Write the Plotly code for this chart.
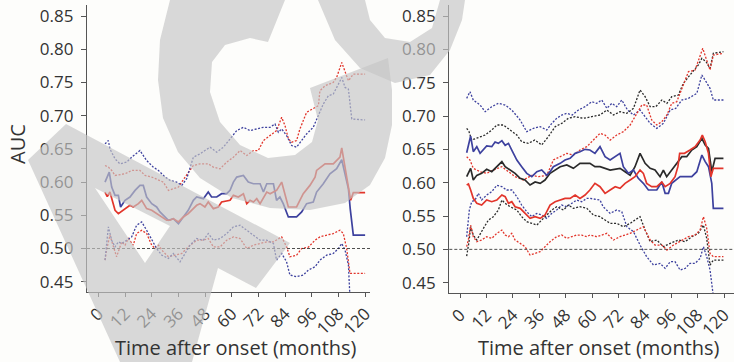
import plotly.graph_objects as go

# ---------------- data (months after onset, AUC) ----------------
# Left panel
L_red_x = [3.0, 4.0, 5.2, 7.5, 9.0, 12.0, 14.2, 15.7, 18.0, 19.5, 20.5, 21.7, 24.0, 26.2, 29.2, 30.7, 32.2, 33.7, 36.0, 38.2, 40.4, 41.9, 44.2, 45.7, 47.9, 49.4, 51.7, 53.9, 55.4, 59.2, 60.7, 62.9, 65.2, 66.7, 68.2, 69.7, 71.2, 72.7, 74.2, 75.7, 77.2, 80.1, 82.4, 83.9, 85.4, 89.1, 90.6, 92.1, 95.1, 97.4, 98.1, 101.9, 105.6, 107.1, 108.6, 109.4, 110.1, 110.9, 112.4, 113.4, 114.6, 119.9]
L_red_y = [0.585, 0.578, 0.585, 0.5575, 0.5525, 0.560, 0.565, 0.5625, 0.5675, 0.5725, 0.5675, 0.560, 0.5575, 0.5525, 0.545, 0.5425, 0.5425, 0.545, 0.540, 0.5475, 0.5525, 0.5575, 0.565, 0.5675, 0.5625, 0.570, 0.560, 0.5625, 0.570, 0.5725, 0.580, 0.5775, 0.5825, 0.5675, 0.5725, 0.570, 0.575, 0.5675, 0.5775, 0.585, 0.5825, 0.5875, 0.600, 0.5825, 0.5625, 0.5625, 0.5725, 0.5825, 0.595, 0.6075, 0.6175, 0.6275, 0.6275, 0.6325, 0.6375, 0.6516, 0.6375, 0.625, 0.5925, 0.5725, 0.584, 0.584]

L_blue_x = [3.0, 4.9, 6.0, 7.5, 9.0, 10.0, 12.0, 14.2, 16.5, 18.7, 20.2, 21.7, 24.0, 26.2, 27.7, 30.0, 31.5, 33.7, 36.0, 38.2, 40.4, 42.7, 44.2, 47.2, 49.4, 50.9, 53.2, 55.4, 57.7, 59.2, 60.7, 62.2, 65.2, 67.4, 69.7, 72.7, 74.2, 75.7, 78.7, 80.1, 81.6, 83.1, 85.4, 89.1, 91.4, 93.6, 96.6, 98.1, 101.1, 104.1, 107.1, 109.4, 110.9, 112.4, 113.2, 114.6, 119.9]
L_blue_y = [0.600, 0.615, 0.5925, 0.580, 0.580, 0.5625, 0.5725, 0.5775, 0.5875, 0.595, 0.595, 0.5775, 0.5675, 0.5625, 0.555, 0.5475, 0.5425, 0.545, 0.5375, 0.5475, 0.5575, 0.5725, 0.5775, 0.575, 0.585, 0.5775, 0.5775, 0.5825, 0.5825, 0.5875, 0.600, 0.6075, 0.610, 0.600, 0.5975, 0.5975, 0.585, 0.5975, 0.5975, 0.5725, 0.5775, 0.5675, 0.5475, 0.5475, 0.555, 0.5675, 0.570, 0.585, 0.5975, 0.6125, 0.620, 0.6336, 0.6125, 0.590, 0.560, 0.520, 0.520]

L_red_up_x = [3.0, 4.5, 6.0, 7.5, 12.0, 15.0, 18.7, 21.0, 24.0, 27.0, 29.2, 31.5, 33.7, 36.0, 39.0, 42.7, 45.7, 49.4, 51.7, 54.7, 57.7, 60.7, 63.7, 66.7, 69.7, 71.9, 74.2, 77.2, 80.1, 82.4, 83.9, 85.4, 86.9, 89.1, 90.6, 93.6, 96.6, 98.9, 99.6, 101.9, 105.6, 107.1, 109.4, 110.9, 112.4, 114.6, 119.9]
L_red_up_y = [0.625, 0.6225, 0.6175, 0.610, 0.6125, 0.6175, 0.6175, 0.610, 0.6075, 0.6025, 0.600, 0.5875, 0.590, 0.5925, 0.6075, 0.625, 0.6275, 0.6275, 0.6225, 0.620, 0.630, 0.6375, 0.6475, 0.640, 0.6475, 0.6475, 0.6625, 0.670, 0.6775, 0.6975, 0.685, 0.665, 0.660, 0.6625, 0.680, 0.705, 0.710, 0.715, 0.7375, 0.745, 0.750, 0.7575, 0.780, 0.7675, 0.7525, 0.7625, 0.7625]

L_blue_up_x = [3.0, 4.5, 5.2, 7.5, 9.7, 12.7, 15.0, 18.7, 21.7, 24.7, 27.0, 30.0, 32.2, 35.2, 37.5, 39.7, 42.7, 45.7, 47.9, 50.2, 53.2, 56.2, 59.2, 62.2, 65.2, 68.2, 71.2, 74.2, 77.2, 79.4, 80.9, 82.4, 84.6, 86.9, 89.1, 91.4, 93.6, 96.6, 98.9, 101.1, 103.4, 105.6, 107.9, 109.4, 110.9, 112.4, 113.9, 119.9]
L_blue_up_y = [0.6575, 0.6625, 0.650, 0.635, 0.6275, 0.630, 0.6375, 0.6475, 0.6325, 0.6225, 0.6175, 0.6075, 0.6025, 0.600, 0.595, 0.605, 0.6375, 0.6425, 0.6475, 0.6525, 0.645, 0.6525, 0.665, 0.6775, 0.6825, 0.6775, 0.680, 0.6825, 0.6825, 0.6875, 0.675, 0.680, 0.670, 0.655, 0.6525, 0.6625, 0.6725, 0.6825, 0.700, 0.7175, 0.730, 0.7325, 0.7475, 0.7575, 0.7425, 0.740, 0.695, 0.6935]

L_red_lo_x = [3.0, 3.7, 5.2, 6.7, 8.2, 10.5, 12.0, 13.5, 15.7, 17.2, 19.5, 21.7, 24.0, 25.5, 27.0, 29.2, 31.5, 34.5, 37.5, 40.4, 44.2, 47.2, 49.4, 51.7, 54.7, 57.7, 60.7, 63.7, 66.7, 69.7, 72.7, 75.7, 78.7, 82.4, 84.6, 86.1, 89.1, 91.4, 94.4, 97.4, 99.6, 102.6, 105.6, 108.6, 110.1, 111.6, 113.1, 119.9]
L_red_lo_y = [0.4825, 0.4975, 0.520, 0.5025, 0.4875, 0.510, 0.505, 0.515, 0.505, 0.5225, 0.5275, 0.5225, 0.505, 0.500, 0.505, 0.495, 0.4875, 0.490, 0.4925, 0.5025, 0.5125, 0.5125, 0.515, 0.5025, 0.5025, 0.5125, 0.5175, 0.515, 0.500, 0.505, 0.5075, 0.510, 0.510, 0.5175, 0.5025, 0.4875, 0.490, 0.500, 0.502, 0.5125, 0.5175, 0.520, 0.5225, 0.5275, 0.5225, 0.500, 0.4625, 0.4625]

L_blue_lo_x = [3.0, 4.5, 6.0, 7.5, 9.0, 10.5, 12.7, 15.0, 17.2, 19.5, 21.7, 24.0, 26.2, 28.5, 31.5, 33.7, 36.7, 39.0, 41.2, 44.2, 47.2, 49.4, 51.7, 54.7, 57.7, 60.7, 63.7, 66.7, 69.7, 72.7, 75.7, 78.7, 80.1, 82.4, 84.6, 86.1, 89.1, 92.1, 94.4, 97.4, 99.6, 102.6, 105.6, 107.9, 109.4, 110.9, 112.4, 113.1]
L_blue_lo_y = [0.4825, 0.5325, 0.5125, 0.5025, 0.510, 0.5075, 0.5125, 0.5175, 0.535, 0.540, 0.5275, 0.5125, 0.500, 0.490, 0.485, 0.4925, 0.480, 0.4925, 0.505, 0.515, 0.5125, 0.5225, 0.5125, 0.515, 0.5225, 0.5325, 0.535, 0.5275, 0.520, 0.5125, 0.5125, 0.5075, 0.4825, 0.4925, 0.480, 0.460, 0.4575, 0.460, 0.4675, 0.4725, 0.4825, 0.490, 0.4925, 0.500, 0.5075, 0.4975, 0.475, 0.425]

# Right panel
R_blue_x = [3.0, 4.8, 6.0, 7.6, 9.1, 10.6, 12.1, 14.4, 15.9, 17.4, 19.0, 20.5, 22.0, 23.5, 25.8, 28.0, 30.3, 32.6, 34.9, 37.1, 39.4, 40.9, 42.4, 45.5, 47.7, 50.0, 52.3, 54.5, 56.8, 59.0, 61.3, 63.6, 65.9, 68.2, 70.5, 72.7, 74.2, 76.5, 78.8, 81.0, 83.3, 85.6, 89.4, 91.7, 93.2, 94.7, 96.2, 100.0, 103.0, 105.3, 107.6, 109.9, 111.4, 112.9, 114.4, 115.1, 119.7]
R_blue_y = [0.645, 0.670, 0.6465, 0.654, 0.644, 0.650, 0.655, 0.654, 0.661, 0.659, 0.663, 0.656, 0.659, 0.649, 0.634, 0.624, 0.614, 0.609, 0.6165, 0.619, 0.611, 0.6165, 0.624, 0.629, 0.634, 0.6365, 0.644, 0.6465, 0.650, 0.649, 0.644, 0.654, 0.639, 0.634, 0.639, 0.644, 0.624, 0.614, 0.619, 0.6065, 0.599, 0.589, 0.589, 0.601, 0.584, 0.584, 0.599, 0.609, 0.609, 0.609, 0.6165, 0.6415, 0.6315, 0.624, 0.599, 0.5615, 0.5615]

R_black_x = [3.0, 4.8, 6.0, 7.6, 9.8, 12.1, 14.4, 15.9, 17.4, 19.0, 20.5, 22.7, 25.0, 27.3, 29.5, 31.8, 34.1, 36.4, 38.6, 40.9, 43.2, 45.5, 48.5, 51.5, 54.5, 57.6, 59.0, 61.3, 63.6, 68.2, 72.7, 75.0, 77.3, 79.5, 81.8, 84.1, 86.4, 88.6, 90.9, 92.4, 93.9, 96.2, 98.5, 100.8, 103.0, 105.3, 107.6, 109.9, 111.4, 112.9, 114.4, 115.9, 119.7]
R_black_y = [0.609, 0.6215, 0.604, 0.611, 0.614, 0.620, 0.6165, 0.6215, 0.6265, 0.6315, 0.624, 0.619, 0.614, 0.6065, 0.604, 0.5965, 0.601, 0.599, 0.604, 0.614, 0.619, 0.624, 0.6265, 0.6215, 0.629, 0.629, 0.629, 0.624, 0.624, 0.619, 0.6215, 0.6165, 0.611, 0.624, 0.644, 0.629, 0.6215, 0.619, 0.609, 0.619, 0.609, 0.619, 0.629, 0.639, 0.639, 0.649, 0.654, 0.6665, 0.6565, 0.6515, 0.6165, 0.6365, 0.6365]

R_red_x = [3.0, 3.8, 4.8, 6.0, 7.6, 9.8, 12.1, 14.4, 16.7, 19.0, 20.5, 22.0, 23.5, 25.0, 27.3, 29.5, 31.8, 34.1, 36.4, 38.6, 40.9, 43.2, 45.5, 47.7, 50.0, 52.3, 54.5, 56.8, 59.0, 61.3, 63.6, 65.9, 68.2, 70.5, 72.7, 75.0, 77.3, 79.5, 81.8, 83.3, 84.8, 87.1, 89.4, 91.7, 93.2, 95.5, 97.7, 99.0, 99.8, 102.0, 104.5, 106.8, 109.1, 110.1, 111.4, 112.9, 114.0, 115.1, 119.7]
R_red_y = [0.5965, 0.598, 0.589, 0.5765, 0.569, 0.5665, 0.574, 0.5715, 0.574, 0.5815, 0.579, 0.569, 0.5715, 0.564, 0.5615, 0.554, 0.5465, 0.549, 0.5465, 0.5515, 0.5665, 0.5715, 0.574, 0.5765, 0.5765, 0.5815, 0.5765, 0.5815, 0.589, 0.599, 0.594, 0.584, 0.589, 0.594, 0.5915, 0.599, 0.604, 0.609, 0.619, 0.614, 0.599, 0.594, 0.594, 0.601, 0.594, 0.599, 0.609, 0.624, 0.644, 0.644, 0.649, 0.654, 0.664, 0.6715, 0.6615, 0.644, 0.609, 0.6215, 0.6215]

R_blue_up_x = [3.0, 4.5, 6.0, 9.1, 11.4, 14.4, 17.4, 20.5, 23.5, 27.3, 30.3, 33.3, 36.4, 39.4, 41.7, 43.9, 46.2, 48.5, 51.0, 53.8, 56.8, 59.9, 62.1, 64.4, 66.7, 69.0, 71.2, 73.5, 76.1, 78.8, 81.8, 84.1, 86.4, 89.4, 92.4, 95.5, 98.0, 100.8, 103.8, 107.6, 109.9, 111.8, 113.6, 115.1, 120.0]
R_blue_up_y = [0.7265, 0.7365, 0.724, 0.7165, 0.7065, 0.714, 0.719, 0.7165, 0.709, 0.694, 0.6765, 0.6815, 0.684, 0.679, 0.689, 0.6965, 0.7015, 0.704, 0.7015, 0.709, 0.714, 0.7215, 0.719, 0.724, 0.7115, 0.719, 0.714, 0.724, 0.709, 0.7015, 0.709, 0.699, 0.689, 0.6815, 0.689, 0.709, 0.7115, 0.724, 0.7265, 0.734, 0.7615, 0.7515, 0.7415, 0.724, 0.724]

R_black_up_x = [3.0, 4.0, 5.3, 7.6, 11.4, 14.4, 16.7, 19.7, 22.7, 25.8, 28.0, 31.0, 34.0, 37.1, 40.1, 43.2, 46.2, 49.2, 52.3, 56.0, 59.8, 63.6, 66.7, 69.7, 72.7, 75.8, 78.8, 81.8, 84.1, 86.4, 89.0, 91.7, 94.0, 96.2, 99.2, 101.5, 104.5, 108.3, 109.9, 111.8, 113.6, 115.1, 119.7]
R_black_up_y = [0.6815, 0.677, 0.664, 0.6665, 0.6715, 0.679, 0.6865, 0.6865, 0.679, 0.6715, 0.6615, 0.659, 0.664, 0.6565, 0.669, 0.684, 0.689, 0.6965, 0.699, 0.6965, 0.699, 0.7015, 0.709, 0.7015, 0.7065, 0.704, 0.7115, 0.739, 0.729, 0.714, 0.714, 0.724, 0.719, 0.729, 0.7315, 0.749, 0.7615, 0.7765, 0.7865, 0.7815, 0.7715, 0.794, 0.7965]

R_red_up_x = [3.0, 4.5, 6.0, 9.1, 12.1, 15.1, 19.0, 22.0, 25.0, 28.8, 32.6, 35.6, 39.4, 42.4, 45.5, 48.5, 51.5, 54.5, 57.6, 60.6, 63.6, 65.9, 68.2, 71.2, 74.2, 77.3, 80.3, 82.6, 84.8, 87.1, 89.4, 91.7, 94.0, 96.2, 98.5, 100.8, 103.8, 106.8, 109.1, 110.3, 111.8, 113.6, 115.1, 119.7]
R_red_up_y = [0.639, 0.634, 0.6215, 0.6165, 0.614, 0.619, 0.624, 0.6165, 0.609, 0.604, 0.611, 0.609, 0.611, 0.634, 0.639, 0.644, 0.6415, 0.649, 0.654, 0.664, 0.674, 0.6715, 0.664, 0.6715, 0.6765, 0.6865, 0.704, 0.7165, 0.7165, 0.694, 0.6865, 0.6915, 0.7015, 0.719, 0.7215, 0.7415, 0.7665, 0.769, 0.789, 0.8015, 0.7865, 0.769, 0.7915, 0.794]

R_blue_lo_x = [3.0, 4.2, 5.3, 6.8, 8.3, 9.8, 12.1, 14.4, 16.7, 19.0, 21.2, 23.5, 25.8, 28.0, 30.3, 32.6, 34.9, 37.1, 39.4, 41.7, 43.9, 46.2, 48.5, 50.8, 53.0, 55.3, 57.6, 59.0, 63.6, 65.0, 68.2, 71.2, 73.5, 75.8, 78.8, 81.8, 84.8, 87.9, 90.9, 93.2, 95.5, 97.7, 100.0, 102.3, 104.5, 106.8, 109.1, 110.6, 112.1, 113.6, 115.1]
R_blue_lo_y = [0.519, 0.559, 0.5715, 0.574, 0.584, 0.574, 0.5815, 0.5865, 0.596, 0.594, 0.589, 0.589, 0.579, 0.5665, 0.5565, 0.549, 0.554, 0.5515, 0.5465, 0.554, 0.559, 0.5665, 0.564, 0.569, 0.574, 0.5715, 0.5765, 0.5765, 0.574, 0.564, 0.554, 0.559, 0.5565, 0.534, 0.5265, 0.5065, 0.489, 0.4765, 0.479, 0.4715, 0.4815, 0.4815, 0.469, 0.4715, 0.479, 0.479, 0.4865, 0.504, 0.489, 0.469, 0.43]

R_black_lo_x = [3.0, 4.0, 4.8, 6.0, 7.6, 9.1, 10.6, 12.9, 15.1, 17.4, 19.0, 20.5, 22.7, 25.8, 28.0, 30.3, 32.6, 34.9, 37.1, 39.4, 41.7, 43.9, 47.0, 49.2, 51.5, 54.5, 57.6, 60.6, 63.6, 68.2, 71.2, 74.2, 77.3, 79.5, 81.8, 84.1, 86.4, 89.4, 92.4, 95.5, 99.2, 102.3, 105.3, 108.3, 110.6, 112.1, 113.6, 115.1, 119.7]
R_black_lo_y = [0.490, 0.510, 0.534, 0.5215, 0.514, 0.524, 0.5315, 0.544, 0.549, 0.559, 0.574, 0.569, 0.564, 0.559, 0.549, 0.5415, 0.539, 0.5365, 0.544, 0.5515, 0.559, 0.564, 0.559, 0.5665, 0.5615, 0.564, 0.5615, 0.5515, 0.549, 0.539, 0.539, 0.534, 0.539, 0.544, 0.549, 0.529, 0.5115, 0.514, 0.504, 0.509, 0.514, 0.5115, 0.519, 0.524, 0.5365, 0.5165, 0.4765, 0.484, 0.484]

R_red_lo_x = [3.0, 3.8, 4.8, 6.0, 7.6, 9.8, 12.1, 14.4, 16.7, 19.0, 20.5, 22.0, 23.5, 25.0, 27.3, 29.5, 31.8, 34.1, 36.4, 38.6, 40.9, 43.9, 46.2, 48.5, 50.8, 53.0, 55.3, 57.6, 59.0, 62.1, 66.7, 69.7, 72.7, 77.3, 80.3, 83.3, 86.4, 88.6, 91.7, 94.0, 97.0, 100.0, 103.8, 106.8, 109.1, 110.6, 112.1, 113.6, 115.1, 119.7]
R_red_lo_y = [0.504, 0.515, 0.5365, 0.519, 0.5115, 0.514, 0.519, 0.5165, 0.524, 0.529, 0.5215, 0.519, 0.524, 0.514, 0.509, 0.504, 0.4915, 0.4935, 0.4965, 0.504, 0.5115, 0.519, 0.5215, 0.5165, 0.519, 0.5215, 0.5215, 0.519, 0.5215, 0.519, 0.524, 0.514, 0.519, 0.524, 0.529, 0.534, 0.514, 0.5065, 0.5065, 0.499, 0.5065, 0.5115, 0.519, 0.5215, 0.529, 0.549, 0.5315, 0.494, 0.489, 0.489]

x_tick_vals = [0, 12, 24, 36, 48, 60, 72, 84, 96, 108, 120]
y_tick_vals = [0.45, 0.50, 0.55, 0.60, 0.65, 0.70, 0.75, 0.80, 0.85]
x_title = "Time after onset (months)"
y_title = "AUC"
chance_level = 0.5

# ---------------- style ----------------
RED = "#e2352b"
BLUE = "#3d419e"
BLACK = "#2a2a2a"
W, H = 734, 362
FONT = "Open Sans"
TXT = "#333333"
DOT = "2px,1.6px"

fig = go.Figure()


def add(x, y, color, dotted, xa, ya):
    fig.add_trace(go.Scatter(
        x=x, y=y, mode="lines", xaxis=xa, yaxis=ya, showlegend=False,
        line=dict(color=color, width=1.3 if dotted else 1.7,
                  dash=DOT if dotted else "solid", shape="linear"),
        hoverinfo="skip"))


# left panel
add(L_red_up_x, L_red_up_y, RED, True, "x", "y")
add(L_blue_up_x, L_blue_up_y, BLUE, True, "x", "y")
add(L_red_lo_x, L_red_lo_y, RED, True, "x", "y")
add(L_blue_lo_x, L_blue_lo_y, BLUE, True, "x", "y")
add(L_blue_x, L_blue_y, BLUE, False, "x", "y")
add(L_red_x, L_red_y, RED, False, "x", "y")
# right panel
add(R_blue_up_x, R_blue_up_y, BLUE, True, "x2", "y2")
add(R_black_up_x, R_black_up_y, BLACK, True, "x2", "y2")
add(R_red_up_x, R_red_up_y, RED, True, "x2", "y2")
add(R_blue_lo_x, R_blue_lo_y, BLUE, True, "x2", "y2")
add(R_black_lo_x, R_black_lo_y, BLACK, True, "x2", "y2")
add(R_red_lo_x, R_red_lo_y, RED, True, "x2", "y2")
add(R_black_x, R_black_y, BLACK, False, "x2", "y2")
add(R_blue_x, R_blue_y, BLUE, False, "x2", "y2")
add(R_red_x, R_red_y, RED, False, "x2", "y2")


def px(x):
    return x / W


def py(y):
    return 1 - y / H


common_x = dict(
    tickmode="array", tickvals=x_tick_vals, tickangle=-45, automargin=False,
    showline=True, linecolor="#555", linewidth=1.3, mirror=False,
    ticks="outside", ticklen=4, tickcolor="#555", tickwidth=1.2,
    showgrid=False, zeroline=False,
    tickfont=dict(family=FONT, size=17, color=TXT),
)
common_y = dict(
    tickmode="array", tickvals=y_tick_vals, tickformat=".2f", automargin=False,
    showline=True, linecolor="#555", linewidth=1.3,
    ticks="outside", ticklen=5, tickcolor="#555", tickwidth=1.2,
    showgrid=False, zeroline=False, ticklabelstandoff=4,
    tickfont=dict(family=FONT, size=17, color=TXT),
)

fig.update_layout(
    template="none",
    width=W, height=H, autosize=False,
    margin=dict(l=0, r=0, t=0, b=0, pad=0, autoexpand=False),
    paper_bgcolor="#fdfdfb", plot_bgcolor="#fdfdfb",
    font=dict(family=FONT, color=TXT),
    xaxis=dict(domain=[px(87), px(370)], range=[-5.1, 122.1], anchor="y", **common_x),
    yaxis=dict(domain=[py(292), py(5)], range=[0.4345, 0.8666], anchor="x", **common_y),
    xaxis2=dict(domain=[px(449.3), px(734)], range=[-4.9, 124.5], anchor="y2", **common_x),
    yaxis2=dict(domain=[py(293.3), py(5)], range=[0.4341, 0.8665], anchor="x2", **common_y),
)

# chance line
for xr, yr in (("x domain", "y"), ("x2 domain", "y2")):
    fig.add_shape(type="line", xref=xr, yref=yr, x0=0, x1=1,
                  y0=chance_level, y1=chance_level,
                  line=dict(color="#222", width=0.8, dash="3px,2px"))

# axis titles
for cx in (236, 599):
    fig.add_annotation(x=px(cx), y=py(347), xref="paper", yref="paper", text=x_title,
                       xanchor="center", yanchor="middle", showarrow=False,
                       font=dict(family=FONT, size=20, color=TXT))
fig.add_annotation(x=px(17), y=py(144), xref="paper", yref="paper", text=y_title,
                   xanchor="center", yanchor="middle",
                   textangle=-90, showarrow=False, font=dict(family=FONT, size=20, color=TXT))


# ---------------- watermark (grey letters overlay) ----------------
def path(*polys):
    s = ""
    for poly in polys:
        s += "M " + " L ".join(f"{px(x):.5f},{py(y):.5f}" for x, y in poly) + " Z "
    return s


WM = "rgba(197,197,197,0.66)"
A_outer = [(28, 160), (66, 124), (290, 243), (256, 288), (218, 268), (192, 362), (120, 362)]
A_hole = [(95, 188), (170, 226), (145, 263)]
C_poly = [(170, 0), (160, 40), (158, 80), (163, 118), (178, 152), (200, 178), (232, 198),
          (270, 208), (310, 210), (345, 203), (370, 185), (385, 158), (392, 125), (392, 90),
          (388, 58), (310, 88), (318, 120), (312, 142), (295, 155), (268, 158), (240, 145),
          (220, 122), (210, 92), (212, 62), (225, 45), (250, 38), (268, 42), (285, 0)]
S_poly = [(318, 0), (335, 40), (360, 68), (395, 83), (430, 75), (450, 50), (462, 20), (465, 0),
          (440, 0), (432, 28), (410, 42), (385, 38), (370, 20), (365, 0)]

fig.add_shape(type="path", xref="paper", yref="paper", path=path(A_outer, A_hole),
              fillrule="evenodd", fillcolor=WM, line=dict(width=0), layer="above")
fig.add_shape(type="path", xref="paper", yref="paper", path=path(C_poly),
              fillcolor=WM, line=dict(width=0), layer="above")
fig.add_shape(type="path", xref="paper", yref="paper", path=path(S_poly),
              fillcolor=WM, line=dict(width=0), layer="above")

fig.write_html("out.html")
